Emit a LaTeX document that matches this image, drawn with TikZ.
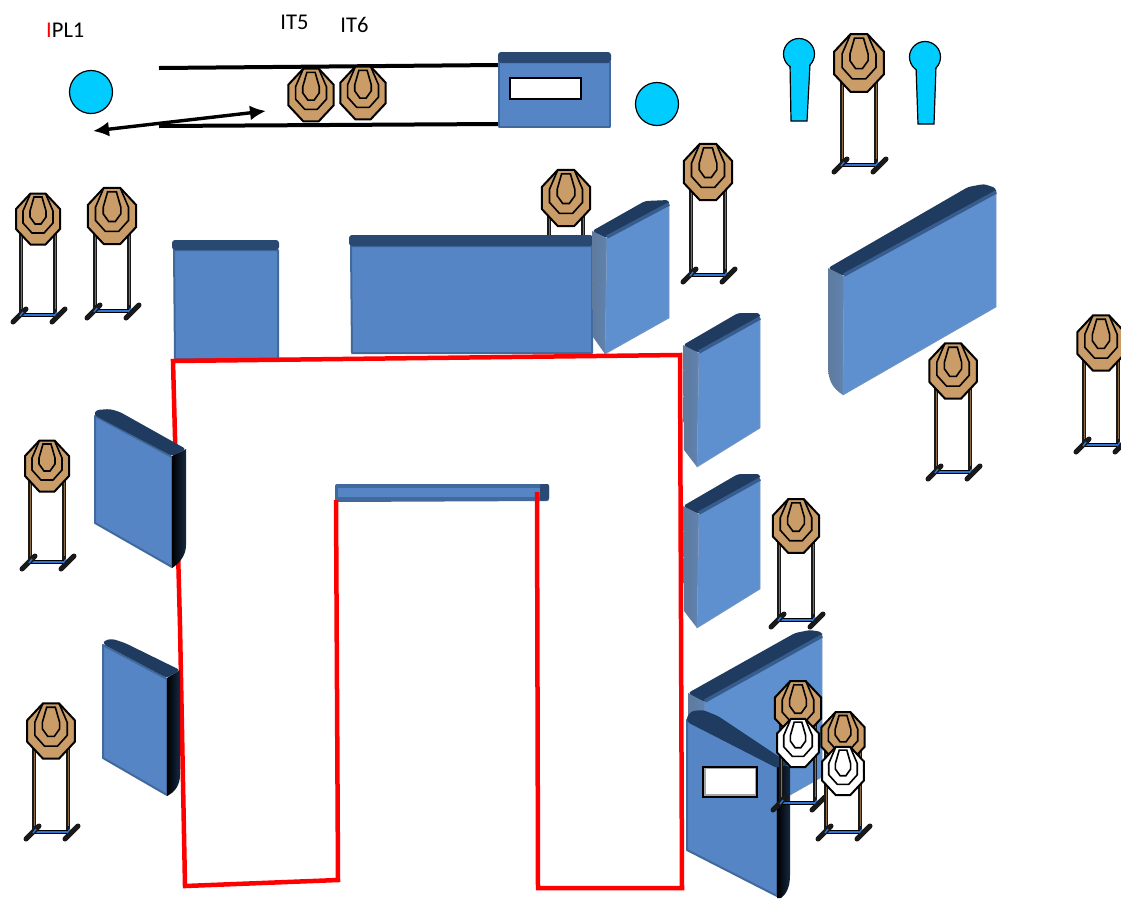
\documentclass[tikz,border=0pt]{standalone}
\usepackage{fontspec}
\setmainfont{Carlito}
\usepackage{xcolor}
\usepackage{tikz}
\usetikzlibrary{arrows.meta}

\definecolor{wallblue}{HTML}{5585C5}
\definecolor{wallright}{HTML}{5E90D0}
\definecolor{walltop}{HTML}{1F3B60}
\definecolor{wallrim}{HTML}{41699C}
\definecolor{wallgrey}{HTML}{5F7A9C}
\definecolor{platetan}{HTML}{C99C68}
\definecolor{ballcyan}{HTML}{00CCFF}
\definecolor{barblue}{HTML}{2F75D0}

\tikzset{
  ball/.style={circle,draw=black,line width=1.2pt,fill=ballcyan,minimum size=43pt,inner sep=0pt},
  lbl/.style={inner sep=0pt,font=\fontsize{22.5}{26}\selectfont},
  face/.style={fill=wallblue,draw=wallrim,line width=2pt,line join=round},
  rface/.style={fill=wallright,draw=wallrim!70,line width=.6pt,line join=round},
  topband/.style={fill=walltop,rounded corners=3pt},
  flatband/.style={fill=walltop!82!wallblue,rounded corners=3pt},
  bandlow/.style={line width=3.5pt,walltop!55!wallblue,line cap=butt},
  sidegrey/.style={left color=wallgrey,right color=wallgrey!60!wallright},
  sidedark/.style={left color=black,right color=walltop!70!black},
  rail/.style={line width=4pt,black},
  redline/.style={line width=4.5pt,red,line join=miter}
}

% plate: x, y, scale, colour
\newcommand{\plate}[4]{
  \begin{scope}[shift={(#1,#2)},scale=#3,line width=1.6pt,line join=miter]
    \draw[fill=#4,line width=2pt] (-7.5,-25.5) -- (7.5,-25.5) -- (22,-10) -- (22,10) -- (7.5,25.5) -- (-7.5,25.5) -- (-22,10) -- (-22,-10) -- cycle;
    \draw (-7.5,-25.5) -- (-15,-8) -- (-15,4) -- (-6,14) -- (6,14) -- (15,4) -- (15,-8) -- (7.5,-25.5);
    \draw (-4,-22) -- (4,-22) -- (8,-8) -- (8,-2) -- (3,5) -- (-3,5) -- (-8,-2) -- (-8,-8) -- cycle;
  \end{scope}
}
% stand: x, y, distance to the cross bar
\newcommand{\stand}[3]{
  \begin{scope}[shift={(#1,#2)}]
    \draw[line width=3.6pt,black!90] (-17,0) -- (-17,#3) (17,0) -- (17,#3);
    \draw[line width=.8pt,platetan!70!black] (-17,0) -- (-17,#3-6) (17,0) -- (17,#3-6);
    \draw[line width=4pt,black] (-18,#3) -- (18,#3);
    \draw[line width=1.8pt,barblue] (-18,#3) -- (18,#3);
    \draw[line width=5pt,black!90,line cap=round] (-25,#3+7) -- (-12,#3-6) (14,#3+7) -- (27,#3-6);
    \draw[line width=1.4pt,barblue] (-18,#3+1) -- (-15,#3-3) (16,#3+1) -- (19,#3-3);
  \end{scope}
}

\begin{document}
\begin{tikzpicture}[x=1pt,y=-1pt]
  \clip (0,0) rectangle (1121,898);

  % labels
  \node[lbl,anchor=west] (ipl) at (46,30) {\textcolor{red}{I}PL1};
  \node[lbl] (itfive) at (294.5,22) {IT5};
  \node[lbl] (itsix) at (354.5,25) {IT6};

  % balls
  \node[ball] (ballA) at (91,92) {};
  \node[ball] (ballB) at (657,104) {};

  % rails and arrow
  \draw[rail] (159,68) -- (498,65);
  \draw[rail] (159,126) -- (498,124);
  \coordinate (arrowL) at (93,131);
  \coordinate (arrowR) at (266,111);
  \draw[line width=3.4pt,{Latex[length=16pt,width=15pt]}-{Latex[length=16pt,width=15pt]}] (arrowL) -- (arrowR);
  \plate{311}{95}{1.03}{platetan}
  \plate{363}{93}{1.03}{platetan}

  % box at end of rails
  \draw[face] (499,62) -- (610,62) -- (610,127) -- (499,127) -- cycle;
  \fill[flatband] (498,63) -- (498,52) -- (611,52) -- (611,63) -- cycle;
  \draw[line width=1.6pt,fill=white] (510,78) rectangle (581,99);

  % poppers
  \draw[fill=ballcyan,line width=1.2pt] (790,64) -- (791,121) -- (807,121) -- (810,64) -- cycle;
  \draw[fill=ballcyan,line width=1.2pt] (799,54) circle (15.5);
  \fill[ballcyan] (791,60) rectangle (809,72);
  \draw[fill=ballcyan,line width=1.2pt] (916,66) -- (918,124) -- (934,124) -- (936,66) -- cycle;
  \draw[fill=ballcyan,line width=1.2pt] (925,57) circle (15.5);
  \fill[ballcyan] (917,62) rectangle (935,74);

  % targets behind the walls
  \stand{38}{219}{96}
  \plate{38}{219}{1}{platetan}
  \stand{112}{216}{95}
  \plate{112}{216}{1.1}{platetan}
  \stand{566}{198}{60}
  \plate{566}{198}{1.1}{platetan}
  \stand{708}{172}{103}
  \plate{708}{172}{1.1}{platetan}
  \stand{859}{63}{102}
  \plate{859}{63}{1.13}{platetan}
  \stand{47}{466}{96}
  \plate{47}{466}{1}{platetan}
  \stand{51}{731}{101}
  \plate{51}{731}{1.08}{platetan}

  % back walls
  \draw[face] (174,250) -- (278,250) -- (278,359) -- (175,359) -- cycle;
  \fill[flatband] (172,250) -- (172,240) -- (279,240) -- (279,250) -- cycle;
  \draw[face] (351,246) -- (592,246) -- (592,353) -- (352,353) -- cycle;
  \fill[flatband] (349,246) -- (349,235) -- (593,235) -- (593,246) -- cycle;

  % wall right of the back wall
  \shade[sidegrey] (592,231) -- (607,238) -- (605,354) -- (593,337) -- cycle;
  \draw[rface] (607,236) -- (669,204) -- (669,318) -- (605,354) -- cycle;
  \fill[topband] (592,231) -- (645,201) -- (669,200) -- (669,205) -- (607,238) -- cycle;
  \draw[bandlow] (607,237) -- (669,204);

  % walls right of the red line
  \shade[sidegrey] (683,345) -- (699,353) -- (697,467) -- (684,450) -- cycle;
  \draw[rface] (699,351) -- (760,318) -- (760,428) -- (697,467) -- cycle;
  \fill[topband] (683,345) -- (738,313) -- (760,313) -- (760,318) -- (699,353) -- cycle;
  \draw[bandlow] (699,352) -- (760,318);
  \shade[sidegrey] (683,506) -- (699,514) -- (697,628) -- (684,611) -- cycle;
  \draw[rface] (699,512) -- (760,479) -- (760,589) -- (697,628) -- cycle;
  \fill[topband] (683,506) -- (738,474) -- (760,474) -- (760,479) -- (699,514) -- cycle;
  \draw[bandlow] (699,513) -- (760,479);

  % big wall
  \shade[sidegrey] (828,268) -- (844,276) -- (843,395) .. controls (832,388) and (828,380) .. (828,365) -- cycle;
  \draw[rface] (844,274) -- (996,191) -- (996,307) -- (843,395) -- cycle;
  \fill[topband] (828,268) -- (968,187) -- (984,184) -- (996,188) -- (996,193) -- (844,276) -- cycle;
  \draw[bandlow] (844,275) -- (996,192);

  \stand{953}{371}{101}
  \plate{953}{371}{1.08}{platetan}
  \stand{1101}{343}{102}
  \plate{1101}{343}{1.08}{platetan}
  \stand{796}{526}{94}
  \plate{796}{526}{1.05}{platetan}

  % inner bar
  \fill[wallrim,rounded corners=2pt] (335,484) -- (549,484) -- (549,501) -- (335,502) -- cycle;
  \fill[wallblue] (338,488) rectangle (540,497);
  \fill[walltop!80!wallblue,rounded corners=2pt] (540,484) -- (549,484) -- (549,500) -- (540,501) -- cycle;

  % red outline
  \draw[redline] (336,500) -- (338,880) -- (185,886) -- (180,626) -- (173,361) -- (680,355) -- (682,888) -- (538,888) -- (537,492);

  % left walls
  \draw[face] (95,416) -- (172,457) -- (172,567) -- (95,523) -- cycle;
  \shade[sidedark] (172,456) -- (186,449) -- (186,545) .. controls (186,555) and (180,563) .. (172,568) -- cycle;
  \fill[topband] (94,415) -- (96,410) -- (110,409) -- (120,412) -- (186,449) -- (172,456) -- cycle;

  \draw[face] (103,645) -- (167,679) -- (167,795) -- (103,758) -- cycle;
  \shade[sidedark] (167,678) -- (180,670) -- (180,775) .. controls (180,785) and (175,792) .. (167,796) -- cycle;
  \fill[topband] (103,644) -- (105,640) -- (113,639) -- (125,643) -- (180,670) -- (167,678) -- cycle;

  % walls bottom right
  \shade[sidegrey] (688,693) -- (705,700) -- (705,760) -- (688,760) -- cycle;
  \draw[rface] (705,700) -- (822,635) -- (822,777) -- (760,812) -- (705,790) -- cycle;
  \fill[topband] (688,693) -- (795,633) -- (810,630) -- (822,632) -- (822,636) -- (705,702) -- cycle;
  \draw[bandlow] (705,701) -- (822,636);

  \draw[face] (687,720) -- (777,767) -- (777,896) -- (687,850) -- cycle;
  \shade[sidedark] (777,762) -- (790,767) -- (790,875) .. controls (790,888) and (786,894) .. (781,898) -- (777,898) -- cycle;
  \fill[topband] (687,716) -- (692,711) -- (703,710) -- (718,716) -- (790,764) -- (777,768) -- (687,722) -- cycle;
  \draw[line width=1.4pt,fill=black!35] (703,767) rectangle (757,797);
  \fill[white] (706,769) rectangle (755,794);

  % targets in front of the walls
  \stand{798}{708}{95}
  \plate{798}{708}{1.05}{platetan}
  \plate{798}{743}{.95}{white}
  \stand{843}{737}{95}
  \plate{843}{737}{.98}{platetan}
  \plate{843}{771}{.95}{white}
\end{tikzpicture}
\end{document}
